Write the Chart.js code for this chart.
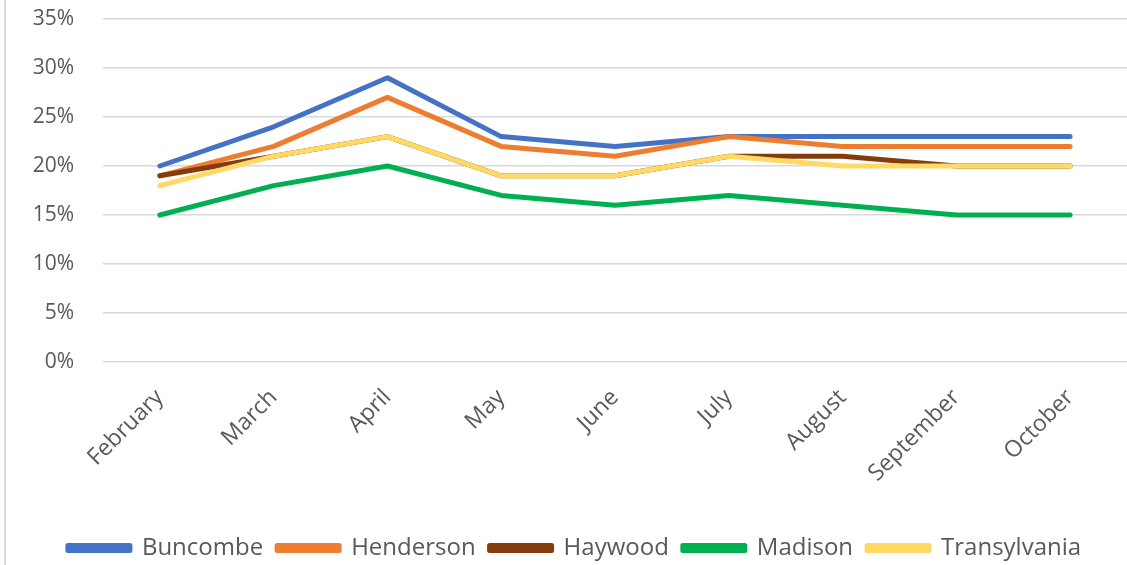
<!DOCTYPE html>
<html lang="en">
<head>
    <meta charset="UTF-8">
    <title>County Rates</title>
    <script src="https://cdn.jsdelivr.net/npm/chart.js@4.4.0/dist/chart.umd.js"></script>
    <style>
        html, body { margin: 0; padding: 0; background: #fff; }
        #wrap { position: relative; width: 1127px; height: 565px; }
        #edge { position: absolute; left: 4px; top: 0; width: 2px; height: 565px; background: #d9d9d9; }
    </style>
</head>
<body>
    <div id="wrap">
        <div id="edge"></div>
        <canvas id="lineChart" width="1127" height="565"></canvas>
    </div>

    <script>
        // Data (percent)
        const months = ['February', 'March', 'April', 'May', 'June', 'July', 'August', 'September', 'October'];
        const buncombe = [20, 24, 29, 23, 22, 23, 23, 23, 23];
        const henderson = [19, 22, 27, 22, 21, 23, 22, 22, 22];
        const haywood = [19, 21, 23, 19, 19, 21, 21, 20, 20];
        const madison = [15, 18, 20, 17, 16, 17, 16, 15, 15];
        const transylvania = [18, 21, 23, 19, 19, 21, 20, 20, 20];

        const seriesNames = ['Buncombe', 'Henderson', 'Haywood', 'Madison', 'Transylvania'];
        const seriesData = [buncombe, henderson, haywood, madison, transylvania];
        const colors = ['#4472C4', '#ED7D31', '#843C0C', '#00B050', '#FFD966'];

        const font = "'Open Sans', 'Liberation Sans', sans-serif";

        // later series are drawn on top, like in Excel
        const datasets = seriesNames.map((name, i) => ({
            label: name,
            data: seriesData[i],
            borderColor: colors[i],
            backgroundColor: colors[i],
            borderWidth: 5,
            pointRadius: 0,
            tension: 0,
            fill: false,
            borderCapStyle: 'round',
            borderJoinStyle: 'round',
            order: seriesNames.length - i
        }));

        new Chart(document.getElementById('lineChart'), {
            type: 'line',
            data: { labels: months, datasets: datasets },
            options: {
                responsive: false,
                animation: false,
                layout: { padding: { left: 22, right: 0, top: 0, bottom: -5 } },
                scales: {
                    x: {
                        offset: true,
                        grid: { display: false },
                        border: { display: false },
                        afterFit: scale => { scale.height = 160; },
                        ticks: {
                            color: '#595959',
                            font: { family: font, size: 23 },
                            minRotation: 45,
                            maxRotation: 45,
                            padding: 14
                        }
                    },
                    y: {
                        min: 0,
                        max: 35,
                        grid: { color: '#d9d9d9', lineWidth: 1.5, drawTicks: false },
                        border: { display: false },
                        // tick padding would also push the plot down, so reset it
                        afterFit: scale => {
                            scale.width = 81;
                            scale.paddingTop = 19;
                            scale.paddingBottom = 10;
                        },
                        ticks: {
                            stepSize: 5,
                            color: '#595959',
                            font: { family: font, size: 21 },
                            padding: 29,
                            callback: value => value + '%'
                        }
                    }
                },
                plugins: {
                    legend: {
                        display: true,
                        position: 'bottom',
                        labels: {
                            boxWidth: 62,
                            boxHeight: 5,
                            padding: 14,
                            color: '#595959',
                            font: { family: font, size: 24 },
                            sort: (a, b) => a.datasetIndex - b.datasetIndex
                        }
                    },
                    tooltip: { enabled: false }
                }
            }
        });
    </script>
</body>
</html>
